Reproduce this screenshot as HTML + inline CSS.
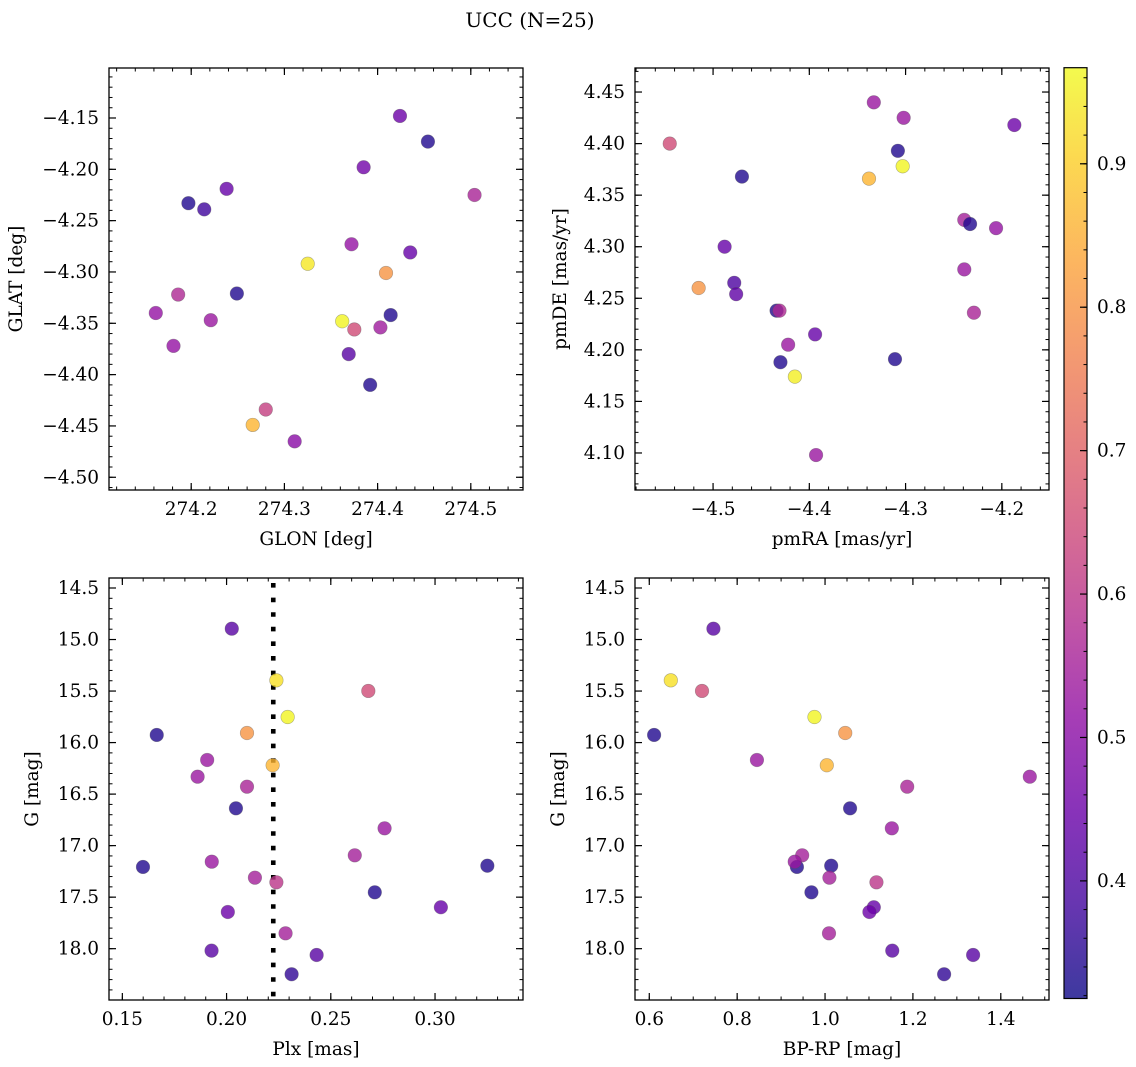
<!DOCTYPE html>
<html><head><meta charset="utf-8">
<style>
html,body{margin:0;padding:0;background:#fff;}
svg{display:block;font-family:"DejaVu Serif","Liberation Serif",serif;}
</style></head>
<body>
<svg id="fig" width="1136" height="1067" viewBox="0 0 1136 1067" xmlns="http://www.w3.org/2000/svg">
<text x="530" y="27" text-anchor="middle" font-size="20" fill="#000">UCC (N=25)</text>
</svg>
<script>
// ---- data ----
const glon = [274.424,274.454,274.385,274.504,274.197,274.214,274.238,274.372,274.435,274.325,274.409,274.186,274.249,274.162,274.221,274.362,274.375,274.403,274.414,274.181,274.369,274.392,274.280,274.266,274.311];
const glat = [-4.148,-4.173,-4.198,-4.225,-4.233,-4.239,-4.219,-4.273,-4.281,-4.292,-4.301,-4.322,-4.321,-4.340,-4.347,-4.348,-4.356,-4.354,-4.342,-4.372,-4.380,-4.410,-4.434,-4.449,-4.465];
const cTop1 = [0.45,0.34,0.46,0.56,0.34,0.38,0.44,0.52,0.44,0.94,0.80,0.57,0.34,0.52,0.53,0.96,0.65,0.54,0.34,0.52,0.42,0.34,0.62,0.86,0.50];

const pmra = [-4.333,-4.302,-4.187,-4.545,-4.308,-4.303,-4.338,-4.470,-4.239,-4.233,-4.206,-4.488,-4.239,-4.515,-4.478,-4.476,-4.434,-4.431,-4.229,-4.394,-4.422,-4.430,-4.311,-4.415,-4.393];
const pmde = [4.440,4.425,4.418,4.400,4.393,4.378,4.366,4.368,4.326,4.322,4.318,4.300,4.278,4.260,4.265,4.254,4.238,4.238,4.236,4.215,4.205,4.188,4.191,4.174,4.098];
const cTop2 = [0.53,0.53,0.45,0.65,0.34,0.96,0.86,0.34,0.55,0.34,0.52,0.44,0.53,0.80,0.40,0.43,0.34,0.57,0.56,0.44,0.53,0.34,0.34,0.95,0.53];

const plx = [0.2025,0.2239,0.2680,0.2293,0.1665,0.2098,0.1907,0.2221,0.1861,0.2098,0.2045,0.2758,0.2615,0.1599,0.1929,0.3251,0.2136,0.2239,0.2711,0.3028,0.2006,0.2283,0.1928,0.2432,0.2312];
const bprp = [0.746,0.649,0.720,0.976,0.611,1.046,0.845,1.004,1.466,1.187,1.057,1.152,0.948,0.936,0.931,1.014,1.010,1.117,0.969,1.111,1.101,1.009,1.153,1.337,1.271];
const gmag = [14.895,15.396,15.499,15.752,15.926,15.907,16.169,16.220,16.331,16.428,16.638,16.832,17.094,17.207,17.156,17.195,17.311,17.356,17.453,17.598,17.644,17.851,18.019,18.061,18.248];
const cBot = [0.42,0.93,0.65,0.96,0.34,0.80,0.53,0.86,0.53,0.56,0.34,0.53,0.55,0.34,0.53,0.34,0.55,0.60,0.34,0.44,0.45,0.55,0.42,0.42,0.36];

const plxLine = [0.2224];
const cRange = [0.318, 0.967];
const cbTicks = [0.4,0.5,0.6,0.7,0.8,0.9];

const tlXTicks = [274.2,274.3,274.4,274.5];
const tlYTicks = [-4.15,-4.20,-4.25,-4.30,-4.35,-4.40,-4.45,-4.50];
const trXTicks = [-4.5,-4.4,-4.3,-4.2];
const trYTicks = [4.45,4.40,4.35,4.30,4.25,4.20,4.15,4.10];
const blXTicks = [0.15,0.20,0.25,0.30];
const gTicks = [14.5,15.0,15.5,16.0,16.5,17.0,17.5,18.0];
const brXTicks = [0.6,0.8,1.0,1.2,1.4];

// ---- helpers ----
const NS = "http://www.w3.org/2000/svg";
const svg = document.getElementById('fig');
const FS = 18.5;
function mk(tag, attrs, parent){
  const e = document.createElementNS(NS, tag);
  for (const k in attrs) e.setAttribute(k, attrs[k]);
  (parent||svg).appendChild(e);
  return e;
}
const stops = [[0,13,8,135],[0.1,65,4,157],[0.2,106,0,168],[0.3,143,13,164],[0.4,177,42,144],[0.5,204,71,120],[0.6,225,100,98],[0.7,242,132,75],[0.8,252,166,54],[0.9,252,206,37],[1,240,249,33]];
function plasma(t){
  t=Math.max(0,Math.min(1,t));
  for(let i=0;i<stops.length-1;i++){
    const a=stops[i],b=stops[i+1];
    if(t<=b[0]){const f=(t-a[0])/(b[0]-a[0]);
      return `rgb(${Math.round(a[1]+f*(b[1]-a[1]))},${Math.round(a[2]+f*(b[2]-a[2]))},${Math.round(a[3]+f*(b[3]-a[3]))})`;}
  }
  return 'rgb(240,249,33)';
}
function cnorm(v){return (v-cRange[0])/(cRange[1]-cRange[0]);}
function fmt(v,d){const s=Math.abs(v).toFixed(d);return (v<0?'\u2212':'')+s;}

function panel(cfg){
  const {L,T,R,B,xmin,xmax,ymin,ymax,invertY} = cfg;
  const sx = v => L + (v-xmin)/(xmax-xmin)*(R-L);
  const sy = invertY ? (v => T + (v-ymin)/(ymax-ymin)*(B-T)) : (v => B - (v-ymin)/(ymax-ymin)*(B-T));
  const g = mk('g',{});
  
  
  if(cfg.vline){
    for(const v of cfg.vline){
      const ln = mk('line',{x1:sx(v),x2:sx(v),y1:T+5,y2:B,stroke:'#000','stroke-width':4.6,'stroke-dasharray':'4.6 10'},g);
      
      
    }
  }
  for(let i=0;i<cfg.xs.length;i++){
    const c = mk('circle',{cx:sx(cfg.xs[i]).toFixed(2),cy:sy(cfg.ys[i]).toFixed(2),r:6.8,fill:plasma(cnorm(cfg.cs[i])),'fill-opacity':0.8,stroke:'#555','stroke-opacity':0.45,'stroke-width':0.6},g);
    
    
  }
  const fr = mk('rect',{x:L,y:T,width:R-L,height:B-T,fill:'none',stroke:'#000','stroke-width':1.3},g);
  
  
  const ML=7, mL=3.5;
  for(let v=Math.ceil(xmin/cfg.xminor-1e-6)*cfg.xminor; v<=xmax+1e-9; v+=cfg.xminor){
    const x=sx(v);
    mk('line',{x1:x,x2:x,y1:B,y2:B-mL,stroke:'#000','stroke-width':1},g);
    mk('line',{x1:x,x2:x,y1:T,y2:T+mL,stroke:'#000','stroke-width':1},g);
  }
  for(const v of cfg.xticks){
    const x=sx(v);
    mk('line',{x1:x,x2:x,y1:B,y2:B-ML,stroke:'#000','stroke-width':1.2},g);
    mk('line',{x1:x,x2:x,y1:T,y2:T+ML,stroke:'#000','stroke-width':1.2},g);
    const t=mk('text',{x:x,y:B+25,'text-anchor':'middle','font-size':FS,fill:'#000'},g);
    t.textContent=fmt(v,cfg.xdec);
    
    
  }
  for(let v=Math.ceil(ymin/cfg.yminor-1e-6)*cfg.yminor; v<=ymax+1e-9; v+=cfg.yminor){
    const y=sy(v);
    mk('line',{x1:L,x2:L+mL,y1:y,y2:y,stroke:'#000','stroke-width':1},g);
    mk('line',{x1:R,x2:R-mL,y1:y,y2:y,stroke:'#000','stroke-width':1},g);
  }
  for(const v of cfg.yticks){
    const y=sy(v);
    mk('line',{x1:L,x2:L+ML,y1:y,y2:y,stroke:'#000','stroke-width':1.2},g);
    mk('line',{x1:R,x2:R-ML,y1:y,y2:y,stroke:'#000','stroke-width':1.2},g);
    const t=mk('text',{x:L-10,y:y+6,'text-anchor':'end','font-size':FS,fill:'#000'},g);
    t.textContent=fmt(v,cfg.ydec);
    
    
  }
  const xl=mk('text',{x:(L+R)/2,y:B+55,'text-anchor':'middle','font-size':FS,fill:'#000'},g);
  xl.textContent=cfg.xlabel;
  
  
  const cy=(T+B)/2;
  const yl=mk('text',{x:cfg.ylx,y:cy,'text-anchor':'middle','font-size':FS,fill:'#000',transform:`rotate(-90 ${cfg.ylx} ${cy})`},g);
  yl.textContent=cfg.ylabel;
  
  
}

panel({name:'glon-glat-panel',L:109,T:68,R:523,B:490,xmin:274.1118,xmax:274.556,ymin:-4.5124,ymax:-4.1013,
  xs:glon,ys:glat,cs:cTop1,xticks:tlXTicks,yticks:tlYTicks,xminor:0.02,yminor:0.01,xdec:1,ydec:2,xlabel:'GLON [deg]',ylabel:'GLAT [deg]',ylx:22});
panel({name:'pm-panel',L:635,T:68,R:1049,B:490,xmin:-4.5811,xmax:-4.151,ymin:4.0641,ymax:4.4733,
  xs:pmra,ys:pmde,cs:cTop2,xticks:trXTicks,yticks:trYTicks,xminor:0.02,yminor:0.01,xdec:1,ydec:2,xlabel:'pmRA [mas/yr]',ylabel:'pmDE [mas/yr]',ylx:566});
panel({name:'plx-g-panel',L:109,T:578,R:523,B:1000,xmin:0.1436,xmax:0.3422,ymin:14.403,ymax:18.498,invertY:true,vline:plxLine,
  xs:plx,ys:gmag,cs:cBot,xticks:blXTicks,yticks:gTicks,xminor:0.01,yminor:0.1,xdec:2,ydec:1,xlabel:'Plx [mas]',ylabel:'G [mag]',ylx:38});
panel({name:'cmd-panel',L:635,T:578,R:1049,B:1000,xmin:0.5675,xmax:1.5097,ymin:14.403,ymax:18.498,invertY:true,
  xs:bprp,ys:gmag,cs:cBot,xticks:brXTicks,yticks:gTicks,xminor:0.05,yminor:0.1,xdec:1,ydec:1,xlabel:'BP-RP [mag]',ylabel:'G [mag]',ylx:564});

(function(){
  const L=1064,R=1087,T=67.7,B=998.5;
  const sy=v=>B-(v-cRange[0])/(cRange[1]-cRange[0])*(B-T);
  const g=mk('g',{});
  
  
  const defs=mk('defs',{},g);
  const lg=mk('linearGradient',{id:'cbg',x1:0,y1:1,x2:0,y2:0},defs);
  for(let i=0;i<=20;i++){mk('stop',{offset:i/20,'stop-color':plasma(i/20)},lg);}
  const r=mk('rect',{x:L,y:T,width:R-L,height:B-T,fill:'url(#cbg)','fill-opacity':0.8},g);
  
  
  mk('rect',{x:L,y:T,width:R-L,height:B-T,fill:'none',stroke:'#000','stroke-width':1.2},g);
  for(let v=0.32; v<=cRange[1]+1e-9; v+=0.02){
    const y=sy(v);
    mk('line',{x1:R,x2:R-3.5,y1:y,y2:y,stroke:'#000','stroke-width':1},g);
  }
  for(const v of cbTicks){
    const y=sy(v);
    mk('line',{x1:R,x2:R-7,y1:y,y2:y,stroke:'#000','stroke-width':1.2},g);
    const t=mk('text',{x:R+10,y:y+6,'font-size':FS,fill:'#000'},g);
    t.textContent=v.toFixed(1);
    
    
  }
})();
</script>
</body></html>
